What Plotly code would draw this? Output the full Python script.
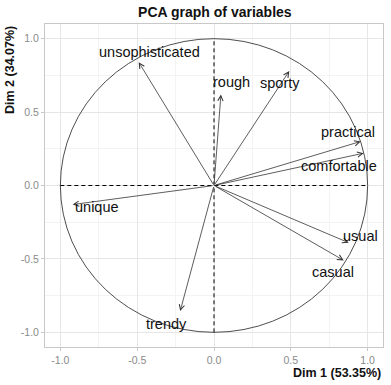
import plotly.graph_objects as go

variables = ["unsophisticated", "rough", "sporty", "practical", "comfortable",
             "usual", "casual", "unique", "trendy"]
dim1 = [-0.49, 0.045, 0.49, 0.955, 0.974, 0.877, 0.844, -0.92, -0.22]
dim2 = [0.84, 0.62, 0.78, 0.30, 0.22, -0.39, -0.51, -0.13, -0.855]
# label offsets in pixels from arrow tip (style only)
label_dx = [11, 11, -9, -13, -25, 12, -11, 24, -14]
label_dy = [10, 12, -12, 9, -13, 7, -12, -2, -13]

tick_vals = [-1.0, -0.5, 0.0, 0.5, 1.0]
tick_text = ["-1.0", "-0.5", "0.0", "0.5", "1.0"]

FONT = "Liberation Sans, Arial"

fig = go.Figure()
fig.add_trace(go.Scatter(x=dim1, y=dim2, mode="markers",
                         marker=dict(size=1, color="rgba(0,0,0,0)"),
                         hoverinfo="text", text=variables, showlegend=False))

R = 1.0
fig.add_shape(type="circle", xref="x", yref="y", x0=-R, y0=-R, x1=R, y1=R,
              line=dict(color="#3a3a3a", width=0.9))
fig.add_shape(type="line", xref="x", yref="y", x0=-R, y0=0, x1=R, y1=0,
              line=dict(color="#000000", width=1, dash="4px,3px"))
fig.add_shape(type="line", xref="x", yref="y", x0=0, y0=-R, x1=0, y1=R,
              line=dict(color="#000000", width=1, dash="4px,3px"))

for name, x, y, dx, dy in zip(variables, dim1, dim2, label_dx, label_dy):
    fig.add_annotation(x=x, y=y, ax=0, ay=0, xref="x", yref="y", axref="x", ayref="y",
                       text="", showarrow=True, arrowhead=5, arrowsize=1.3,
                       arrowwidth=0.8, arrowcolor="#333333")
    fig.add_annotation(x=x, y=y, xref="x", yref="y", text=name, showarrow=False,
                       xshift=dx, yshift=dy,
                       font=dict(family=FONT, size=14.5, color="#111111"))

fig.add_annotation(text="<b>Dim 1 (53.35%)</b>", xref="paper", yref="paper",
                   x=1.0, y=0, yshift=-26, xanchor="right", yanchor="middle", showarrow=False,
                   font=dict(family=FONT, size=12.5, color="#111111"))
fig.add_annotation(text="<b>Dim 2 (34.07%)</b>", xref="paper", yref="paper",
                   x=0, y=1.0, xshift=-35, xanchor="center", yanchor="top", textangle=-90,
                   showarrow=False,
                   font=dict(family=FONT, size=12.5, color="#111111"))

axis_common = dict(range=[-1.1, 1.1], tickvals=tick_vals, ticktext=tick_text,
                   showgrid=True, gridcolor="#e6e6e6", gridwidth=1,
                   zeroline=False, showline=True, linecolor="#c8c8c8", linewidth=1,
                   mirror=True, ticks="outside", ticklen=3, tickcolor="#c8c8c8",
                   tickfont=dict(family=FONT, size=10.5, color="#8a8a8a"),
                   minor=dict(dtick=0.25, tick0=0, showgrid=True, gridcolor="#f3f3f3", gridwidth=1),
                   fixedrange=True, automargin=False)

fig.update_layout(
    width=391, height=385,
    margin=dict(l=45, r=8, t=24, b=38),
    paper_bgcolor="white", plot_bgcolor="white",
    title=dict(text="<b>PCA graph of variables</b>", x=0.5495, xanchor="center",
               y=0.968, yanchor="middle",
               font=dict(family=FONT, size=14, color="#111111")),
    xaxis=axis_common, yaxis=axis_common,
    showlegend=False,
)

fig.write_html("out.html", config={"displayModeBar": False},
               post_script="document.body.style.margin='0';document.body.style.overflow='hidden';")
